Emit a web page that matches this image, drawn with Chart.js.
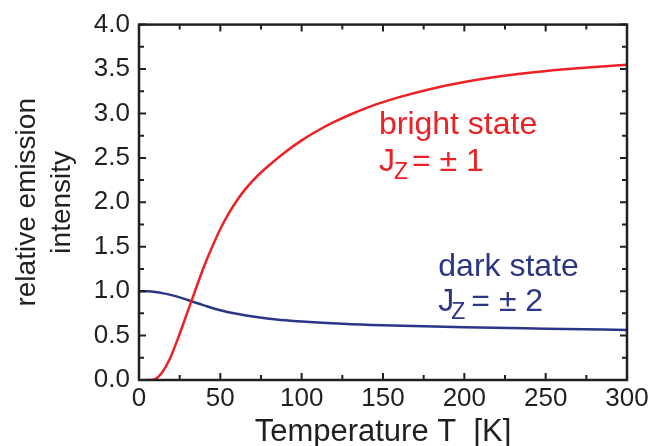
<!DOCTYPE html>
<html>
<head>
<meta charset="utf-8">
<script src="https://cdn.jsdelivr.net/npm/chart.js@4"></script>
<style>
  html, body { margin: 0; padding: 0; background: #fff; overflow: hidden; }
  #wrap { width: 661px; height: 446px; position: relative; }
</style>
</head>
<body>
<div id="wrap"><canvas id="chart"></canvas></div>
<script>
// =======================
// Data
// =======================
const brightTemps = [4, 8, 10, 14, 19, 25, 30, 35, 40, 45, 50, 55, 60, 65, 70, 75, 80, 90, 100, 110, 120, 130, 140, 150, 160, 180, 200, 220, 240, 260, 280, 300]
const brightValues = [0, 0, 0.01, 0.08, 0.24, 0.52, 0.775, 1.03, 1.28, 1.50, 1.70, 1.87, 2.015, 2.14, 2.245, 2.335, 2.417, 2.567, 2.697, 2.808, 2.904, 2.988, 3.063, 3.127, 3.184, 3.279, 3.354, 3.413, 3.459, 3.495, 3.524, 3.547]

const darkTemps = [0, 5, 10, 15, 20, 25, 30, 35, 40, 45, 50, 60, 70, 80, 90, 100, 125, 150, 200, 250, 300]
const darkValues = [1.0, 0.998, 0.99, 0.975, 0.955, 0.93, 0.90, 0.87, 0.84, 0.81, 0.785, 0.745, 0.715, 0.69, 0.672, 0.658, 0.632, 0.615, 0.594, 0.578, 0.563]

const xTickLabels = [0, 50, 100, 150, 200, 250, 300]
const yTickLabels = ["0.0", "0.5", "1.0", "1.5", "2.0", "2.5", "3.0", "3.5", "4.0"]

const RED = "#ed2024"
const BLUE = "#2b3686"
const INK = "#231f20"
const FONT = "'Liberation Sans', Arial, Helvetica, sans-serif"

// in-plot labels, anchored in data units
const labels = [
  { color: RED,  t: 147.5, v: 2.771, line1: "bright state", rest: "= \u00b1 1", dy: 37, zdx: 15, restdx: 33 },
  { color: BLUE, t: 184,   v: 1.176, line1: "dark state",   rest: "= \u00b1 2", dy: 35, zdx: 13, restdx: 33 }
]


// =======================
// Frame + inward ticks + labels
// =======================
const framePlugin = {
  id: "frame",
  afterDatasetsDraw(chart) {
    const { ctx, chartArea: a, scales: { x, y } } = chart
    ctx.save()
    ctx.strokeStyle = INK
    ctx.lineWidth = 2.5
    ctx.strokeRect(a.left, a.top, a.right - a.left, a.bottom - a.top)

    ctx.lineWidth = 2
    ctx.beginPath()
    for (let t = 0; t <= 300; t += 25) {
      const px = x.getPixelForValue(t)
      const len = t % 50 === 0 ? 7 : 5
      ctx.moveTo(px, a.bottom); ctx.lineTo(px, a.bottom - len)
      ctx.moveTo(px, a.top); ctx.lineTo(px, a.top + len)
    }
    for (let v = 0; v <= 4.001; v += 0.25) {
      const py = y.getPixelForValue(v)
      const len = Math.round(v * 4) % 2 === 0 ? 7 : 5
      ctx.moveTo(a.left, py); ctx.lineTo(a.left + len, py)
      ctx.moveTo(a.right, py); ctx.lineTo(a.right - len, py)
    }
    ctx.stroke()

    labels.forEach(l => {
      const px = x.getPixelForValue(l.t)
      const py = y.getPixelForValue(l.v)
      ctx.fillStyle = l.color
      ctx.textBaseline = "alphabetic"
      ctx.textAlign = "left"
      ctx.font = `32px ${FONT}`
      ctx.fillText(l.line1, px, py)
      ctx.fillText("J", px, py + l.dy)
      ctx.fillText(l.rest, px + l.restdx, py + l.dy)
      ctx.font = `23px ${FONT}`
      ctx.fillText("Z", px + l.zdx, py + l.dy + 8)
    })
    ctx.restore()
  }
}


// =======================
// Chart
// =======================
new Chart(document.getElementById("chart"), {
  type: "line",
  data: {
    datasets: [
      {
        label: "bright state",
        data: brightTemps.map((t, i) => ({ x: t, y: brightValues[i] })),
        borderColor: RED,
        borderWidth: 2.5,
        pointRadius: 0,
        cubicInterpolationMode: "monotone",
        fill: false
      },
      {
        label: "dark state",
        data: darkTemps.map((t, i) => ({ x: t, y: darkValues[i] })),
        borderColor: BLUE,
        borderWidth: 2.5,
        pointRadius: 0,
        cubicInterpolationMode: "monotone",
        fill: false
      }
    ]
  },
  options: {
    animation: false,
    responsive: true,
    maintainAspectRatio: false,
    layout: { padding: { top: 23, right: 34, left: 0, bottom: 0 } },
    plugins: {
      legend: { display: false },
      tooltip: { enabled: false }
    },
    scales: {
      x: {
        type: "linear",
        min: 0,
        max: 300,
        afterFit: s => { s.height = 66 },
        afterBuildTicks: s => { s.ticks = xTickLabels.map(v => ({ value: v })) },
        grid: { display: false, drawTicks: false },
        border: { display: false },
        ticks: {
          padding: 3.5,
          color: INK,
          font: { family: FONT, size: 26 },
          callback: v => String(v)
        },
        title: {
          display: true,
          text: "Temperature T  [K]",
          color: INK,
          font: { family: FONT, size: 31, lineHeight: 1 },
          padding: { top: 0, bottom: -2 }
        }
      },
      y: {
        min: 0,
        max: 4,
        afterFit: s => { s.width = 139 },
        afterBuildTicks: s => { s.ticks = yTickLabels.map(v => ({ value: parseFloat(v) })) },
        grid: { display: false, drawTicks: false },
        border: { display: false },
        ticks: {
          padding: 9,
          color: INK,
          font: { family: FONT, size: 26 },
          callback: v => v.toFixed(1)
        },
        title: {
          display: true,
          text: ["relative emission", "intensity"],
          color: INK,
          font: { family: FONT, size: 28, lineHeight: 1.25 },
          padding: { top: 9.5, bottom: 0 }
        }
      }
    }
  },
  plugins: [framePlugin]
})
</script>
</body>
</html>
